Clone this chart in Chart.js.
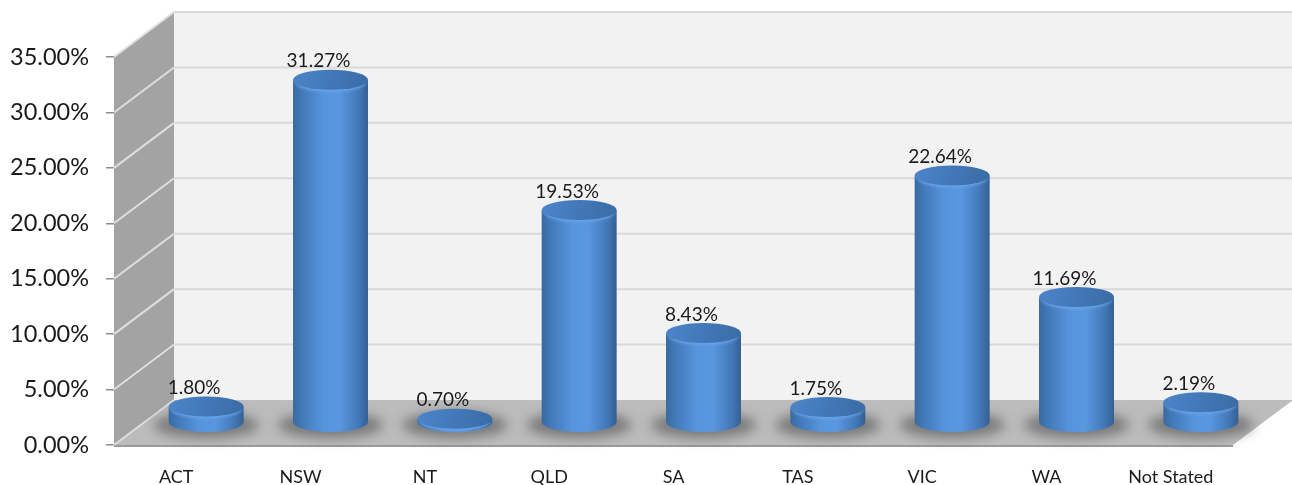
<!DOCTYPE html>
<html>
<head>
<meta charset="utf-8">
<style>html,body{margin:0;padding:0;background:#fff;overflow:hidden}canvas{display:block}</style>
<script src="https://cdn.jsdelivr.net/npm/chart.js@4"></script>
</head>
<body>
<div style="width:1292px;height:485px"><canvas id="c" width="1292" height="485"></canvas></div>
<script>
const categories = ['ACT','NSW','NT','QLD','SA','TAS','VIC','WA','Not Stated'];
const shares = [1.80,31.27,0.70,19.53,8.43,1.75,22.64,11.69,2.19];
const valueLabels = ['1.80%','31.27%','0.70%','19.53%','8.43%','1.75%','22.64%','11.69%','2.19%'];

const DEPTH_X = 60, DEPTH_Y = 45;       // oblique depth of the 3-D box
const MID_X = 30, MID_Y = 18;           // bars stand at mid depth
const RX = 37.5, RY = 10;               // cylinder cap radii

function bodyGradient(ctx, cx){
  const g = ctx.createLinearGradient(cx-RX,0,cx+RX,0);
  g.addColorStop(0,'#386a9f');
  g.addColorStop(0.12,'#4279b8');
  g.addColorStop(0.4,'#5694dc');
  g.addColorStop(0.62,'#5997e0');
  g.addColorStop(0.88,'#4277b6');
  g.addColorStop(1,'#355f92');
  return g;
}
function ellipse(ctx,x,y,rx,ry){ctx.beginPath();ctx.ellipse(x,y,rx,ry,0,0,Math.PI*2);}

const box3d = {
  id:'box3d',
  beforeDatasetsDraw(chart){
    const {ctx,chartArea:a,scales:{y}} = chart;
    const L=a.left,R=a.right,T=y.getPixelForValue(35),B=y.getPixelForValue(0);
    ctx.save();
    // back wall
    ctx.fillStyle='#f2f2f2';
    ctx.fillRect(L+DEPTH_X,T-DEPTH_Y,R-L,B-T);
    // left wall
    ctx.fillStyle='#a3a3a3';
    ctx.beginPath();ctx.moveTo(L,T);ctx.lineTo(L+DEPTH_X,T-DEPTH_Y);ctx.lineTo(L+DEPTH_X,B-DEPTH_Y);ctx.lineTo(L,B);ctx.closePath();ctx.fill();
    // floor
    ctx.fillStyle='#bcbcbc';
    ctx.beginPath();ctx.moveTo(L,B);ctx.lineTo(L+DEPTH_X,B-DEPTH_Y);ctx.lineTo(R+DEPTH_X,B-DEPTH_Y);ctx.lineTo(R,B);ctx.closePath();ctx.fill();
    // front edge of the floor
    ctx.fillStyle='#9a9a9a';
    ctx.fillRect(L,B,R-L,2);
    // grid lines
    y.ticks.forEach(t=>{
      const p=y.getPixelForValue(t.value);
      if(t.value>0){
        ctx.strokeStyle='#d9d9d9';ctx.lineWidth=2;
        ctx.beginPath();ctx.moveTo(L+DEPTH_X,p-DEPTH_Y);ctx.lineTo(R+DEPTH_X,p-DEPTH_Y);ctx.stroke();
      }
      ctx.strokeStyle='#dedede';ctx.lineWidth=2;
      ctx.beginPath();ctx.moveTo(L,p);ctx.lineTo(L+DEPTH_X,p-DEPTH_Y);ctx.stroke();
    });
    // shadows
    const meta=chart.getDatasetMeta(0);
    ctx.filter='blur(6px)';
    ctx.fillStyle='rgba(95,95,95,0.72)';
    meta.data.forEach(b=>{
      ellipse(ctx,b.x+MID_X,b.base-MID_Y+3,RX+15,RY+3);ctx.fill();
    });
    ctx.filter='none';
    ctx.restore();
  },
  beforeDatasetDraw(chart,args){
    const ctx=chart.ctx;
    ctx.save();
    ctx.translate(MID_X,-MID_Y);
    args.meta.data.forEach(b=>{
      ctx.fillStyle=bodyGradient(ctx,b.x);
      ellipse(ctx,b.x,b.base,RX,RY);ctx.fill();
    });
  },
  afterDatasetDraw(chart,args){
    const ctx=chart.ctx;
    args.meta.data.forEach(b=>{
      const g=ctx.createLinearGradient(b.x-RX,b.y-RY,b.x+RX,b.y+RY);
      g.addColorStop(0,'#4c85ca');g.addColorStop(0.5,'#4278b8');g.addColorStop(1,'#3a6ba4');
      // soft light rim under the cap
      ctx.save();
      ctx.filter='blur(1.5px)';
      ctx.fillStyle='#68a3e8';
      ellipse(ctx,b.x,b.y+1.5,RX-2,RY);ctx.fill();
      ctx.restore();
      ctx.fillStyle=g;
      ellipse(ctx,b.x,b.y-0.5,RX,RY);ctx.fill();
    });
    ctx.restore();
    // value labels, set slightly left of the bar centre
    ctx.save();
    ctx.font='19px Lato';ctx.fillStyle='#1a1a1a';ctx.textAlign='center';ctx.textBaseline='middle';
    args.meta.data.forEach((b,i)=>{
      ctx.fillText(valueLabels[i],b.x+MID_X-12,b.y-MID_Y-RY-9);
    });
    ctx.restore();
  }
};

new Chart(document.getElementById('c'),{
  type:'bar',
  data:{labels:categories,datasets:[{
    data:shares,
    base:0.45,
    clip:false,
    borderWidth:0,
    barPercentage:0.603,
    categoryPercentage:1,
    backgroundColor(c){
      const chart=c.chart;
      if(!chart.scales.x||c.dataIndex===undefined)return '#5694dc';
      const px=chart.scales.x.getPixelForValue(c.dataIndex);
      if(!Number.isFinite(px))return '#5694dc';
      return bodyGradient(chart.ctx,px);
    }
  }]},
  plugins:[box3d],
  options:{
    responsive:false,
    animation:false,
    layout:{padding:{top:57,right:59,bottom:0,left:0}},
    plugins:{legend:{display:false},tooltip:{enabled:false},title:{display:false}},
    scales:{
      x:{
        grid:{display:false},
        border:{display:false},
        afterFit(s){s.height=40;},
        ticks:{color:'#1a1a1a',font:{family:'Lato',size:18},padding:13,maxRotation:0,autoSkip:false}
      },
      y:{
        min:0,max:35,
        afterFit(s){s.width=114;},
        grid:{drawOnChartArea:false,drawTicks:true,tickLength:8,color:'#8c8c8c',lineWidth:1.5},
        border:{display:false},
        ticks:{stepSize:5,color:'#1a1a1a',font:{family:'Lato',size:23.5},padding:17,callback:v=>v.toFixed(2)+'%'}
      }
    }
  }
});
</script>
</body>
</html>
